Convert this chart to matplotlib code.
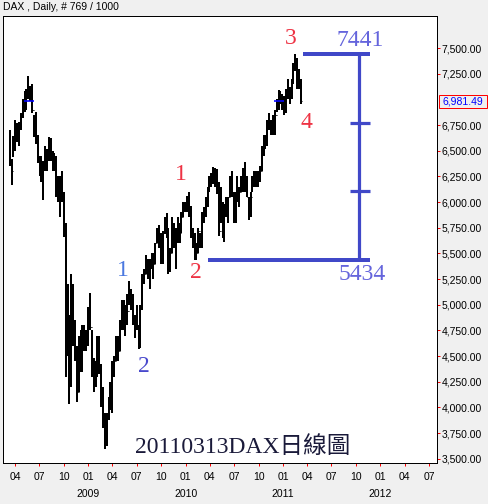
import matplotlib
matplotlib.use('Agg')
import matplotlib.pyplot as plt
import matplotlib.dates as mdates
import matplotlib.transforms as mtransforms
from matplotlib.patches import Rectangle
import numpy as np
import pandas as pd

# ---------------- data (weekly envelope of the daily DAX bars) ----------------
week_end = pd.date_range('2008-03-14', periods=157, freq='W-FRI')

highs = [
    6700, 6420, 6640, 6800, 6770, 6780, 6870, 7000, 7080, 7100, 7230, 7130, 7150, 6850, 6880, 6650,
    6450, 6450, 6400, 6550, 6520, 6630, 6620, 6500, 6480, 6450, 6250, 6250, 6300, 6100, 5800, 5200,
    4900, 5300, 5200, 4850, 4600, 4700, 4750, 4800, 4800, 4750,
    4980, 5111, 4750, 4480, 4450, 4700, 4700, 4420, 4200, 3950, 3950, 4100, 4250, 4450, 4500, 4700,
    4700, 4850, 5050, 5050, 5000, 5100, 5228, 5150, 5100, 4900, 5000, 4800, 5000, 5300, 5350, 5480,
    5450, 5450, 5500, 5500, 5600, 5750, 5780, 5700, 5720, 5850, 5890, 5750, 5550, 5850, 5800, 5750,
    5850, 5800, 5900, 6000,
    6000, 6060, 6094, 5960, 5750, 5700, 5600, 5750, 5700, 5900, 5950, 6050, 6150, 6250, 6280, 6340,
    6330, 6320, 6200, 6150, 6000, 5980, 6050, 6050, 6250, 6300, 6100, 6100, 6250, 6150, 6250, 6330,
    6386, 6250, 6050, 6100, 6250, 6300, 6300, 6300, 6350, 6550, 6650, 6650, 6800, 6870, 6800, 6850,
    6900, 7000, 7090, 7080, 7050, 7030, 7100, 7200, 7120, 7200, 7350, 7441, 7400, 7300, 7200,
]
lows = [
    6350, 6167, 6440, 6500, 6580, 6550, 6700, 6820, 6880, 6900, 7000, 6980, 6870, 6630, 6570, 6380,
    6250, 6200, 6020, 6300, 6300, 6400, 6400, 6300, 6300, 6050, 6000, 5850, 6000, 5660, 4300, 4500,
    4030, 4200, 4600, 4450, 4050, 4150, 4350, 4350, 4550, 4550,
    4600, 4750, 4300, 4150, 4200, 4300, 4330, 4000, 3800, 3600, 3620, 3880, 3980, 3950, 4300, 4450,
    4450, 4550, 4750, 4750, 4700, 4800, 5000, 4950, 4800, 4680, 4750, 4570, 4580, 4950, 5200, 5300,
    5250, 5150, 5350, 5250, 5400, 5600, 5550, 5400, 5400, 5690, 5650, 5300, 5320, 5500, 5550, 5350,
    5600, 5600, 5700, 5850,
    5900, 5900, 5850, 5650, 5550, 5434, 5440, 5500, 5550, 5550, 5800, 5850, 5950, 6100, 6150, 6180,
    6150, 6080, 5670, 5800, 5650, 5607, 5850, 5800, 6050, 6050, 5800, 5800, 6000, 5950, 6100, 6100,
    6100, 6050, 5830, 5850, 6100, 6150, 6150, 6150, 6200, 6300, 6450, 6520, 6550, 6700, 6650, 6650,
    6650, 6880, 6900, 6950, 6900, 6850, 6870, 7000, 6950, 7000, 7150, 7280, 7100, 7100, 6950,
]
closes = [
    6400, 6300, 6550, 6720, 6600, 6760, 6850, 6990, 6920, 7070, 7100, 7100, 6900, 6700, 6600, 6450,
    6300, 6250, 6350, 6450, 6480, 6600, 6450, 6400, 6420, 6100, 6200, 6190, 6100, 5800, 4550, 4780,
    4300, 4990, 4750, 4600, 4150, 4650, 4380, 4600, 4700, 4630,
    4970, 4780, 4350, 4250, 4340, 4650, 4420, 4050, 3850, 3700, 3950, 4000, 4200, 4380, 4450, 4600,
    4550, 4800, 4960, 4800, 4930, 4940, 5050, 5100, 4850, 4850, 4800, 4600, 4980, 5250, 5300, 5400,
    5300, 5400, 5450, 5400, 5600, 5700, 5600, 5450, 5700, 5780, 5700, 5400, 5500, 5800, 5650, 5650,
    5800, 5700, 5850, 5980,
    5957, 6030, 5900, 5700, 5600, 5450, 5500, 5720, 5600, 5880, 5900, 6000, 6120, 6230, 6250, 6200,
    6300, 6140, 5720, 6000, 5800, 5950, 5950, 6050, 6200, 6100, 5850, 6050, 6050, 6100, 6150, 6300,
    6150, 6050, 5950, 6050, 6200, 6250, 6200, 6250, 6300, 6500, 6600, 6600, 6750, 6750, 6700, 6800,
    6850, 6950, 7000, 7050, 6914, 6950, 7050, 7050, 7080, 7180, 7300, 7400, 7200, 7170, 6981.49,
]
first_open = 6600

last_close = closes[-1]
wave_top = 7441
wave_bottom = 5434

# the 7,000 label is hidden behind the last-price label in the reference
y_ticks = [v for v in range(3500, 7501, 250) if v != 7000]
year_labels = ['2009', '2010', '2011', '2012']

# ---------------- figure ----------------
W, H = 488, 504
fig = plt.figure(figsize=(W / 100, H / 100), dpi=100, facecolor='#f0f0f0')
ax = fig.add_axes([3 / W, 1 - 463 / H, (437 - 3) / W, (463 - 16) / H])
ax.set_facecolor('white')

PX = 0.72  # one pixel in points
LAT = 'Liberation Sans'
SER = 'Liberation Serif'

dates = week_end - pd.Timedelta(days=2)
xd = mdates.date2num(dates)
opens = [first_open] + closes[:-1]

ax.vlines(xd, lows, highs, color='black', lw=2.0 * PX, capstyle='butt')
ax.hlines(closes, xd, xd + 3.5, color='black', lw=1.0 * PX)
ax.hlines(opens, xd - 3.5, xd, color='black', lw=1.0 * PX)

# small blue level marks at last close
lvl_segments = [('2008-05-04', '2008-06-11'), ('2010-11-28', '2011-01-04')]
for a, b in lvl_segments:
    ax.hlines(last_close, mdates.datestr2num(a), mdates.datestr2num(b), color='#0000ff', lw=1.6 * PX)

# wave bracket
bc = '#4048c8'
x_top0 = mdates.datestr2num('2011-03-17')
x_bot0 = mdates.datestr2num('2010-03-25')
x_end = mdates.datestr2num('2011-11-23')
x_stem = mdates.datestr2num('2011-10-11')
x_t0 = mdates.datestr2num('2011-09-09')
ax.hlines(wave_top, x_top0, x_end, color=bc, lw=4 * PX, capstyle='butt')
ax.hlines(wave_bottom, x_bot0, x_end, color=bc, lw=4 * PX, capstyle='butt')
ax.vlines(x_stem, wave_bottom, wave_top, color=bc, lw=3.2 * PX, capstyle='butt')
for k in (1, 2):
    lv = wave_bottom + (wave_top - wave_bottom) * k / 3
    ax.hlines(lv, x_t0, x_end, color=bc, lw=3.2 * PX, capstyle='butt')

# axes limits
ax.set_xlim(mdates.datestr2num('2008-02-16'), mdates.datestr2num('2012-07-31'))
ylo = 7500 - (463 - 48) * 9.737
yhi = 7500 + (48 - 16) * 9.737
ax.set_ylim(ylo, yhi)

# y axis on right
ax.yaxis.tick_right()
ax.set_yticks(y_ticks)
ax.set_yticklabels([f'{v:,.2f}' for v in y_ticks])
ax.tick_params(axis='y', colors='red', length=3 * PX, width=1 * PX, pad=1.5 * PX,
               labelcolor='black', labelsize=7.5)
ax.xaxis.set_major_locator(mdates.MonthLocator(bymonth=[1, 4, 7, 10]))
ax.xaxis.set_major_formatter(mdates.DateFormatter('%m'))
ax.tick_params(axis='x', colors='red', length=3 * PX, width=1 * PX, pad=6 * PX,
               labelcolor='black', labelsize=7.5)
for lab in ax.get_xticklabels() + ax.get_yticklabels():
    lab.set_fontfamily(LAT)
for s in ax.spines.values():
    s.set_color('black')
    s.set_linewidth(1 * PX)

bt = mtransforms.blended_transform_factory(ax.transData, ax.transAxes)
for yl in year_labels:
    ax.text(mdates.datestr2num(f'{yl}-01-01'), (463 - 494) / 447, yl, transform=bt,
            ha='center', va='center', fontsize=7.5, fontfamily=LAT, color='black')

# title
fig.text(3 / W, 1 - 7.5 / H, 'DAX , Daily, # 769 / 1000', ha='left', va='center',
         fontsize=7.5, fontfamily=LAT, color='black')

# last price label
bt2 = mtransforms.blended_transform_factory(ax.transAxes, ax.transData)
ax.add_patch(Rectangle(((439 - 3) / 434, last_close - 65), 48 / 434, 130, transform=bt2,
                       fill=True, facecolor='#f0f0f0', edgecolor='red', lw=1 * PX, clip_on=False))
ax.text((463 - 3) / 434, last_close, f'{last_close:,.2f}', transform=bt2, ha='center', va='center',
        fontsize=7.5, fontfamily=LAT, color='#0000ff', clip_on=False)

# wave labels (figure pixel positions)
def fp(x, y):
    return (x, H - y)

labels = [
    ('3', 291, 38, '#ee3344'),
    ('4', 306, 122, '#ee3344'),
    ('1', 181, 175, '#ee3344'),
    ('2', 196, 273, '#ee3344'),
    ('1', 123, 271, '#4a78e0'),
    ('2', 144, 367, '#4848cc'),
    ('7441', 360, 41, '#6464dc'),
    ('5434', 362, 274, '#6464dc'),
]
for t, x, y, c in labels:
    ax.annotate(t, xy=fp(x, y), xycoords='figure pixels', ha='center', va='center',
                fontsize=17, fontfamily=SER, color=c)

ax.annotate('20110313DAX日線圖', xy=fp(243, 447), xycoords='figure pixels', ha='center', va='center',
            fontsize=17, fontfamily=[SER, 'Noto Sans CJK TC'], color='#1a1a3a')

fig.savefig('out.png', dpi=100, facecolor=fig.get_facecolor())
